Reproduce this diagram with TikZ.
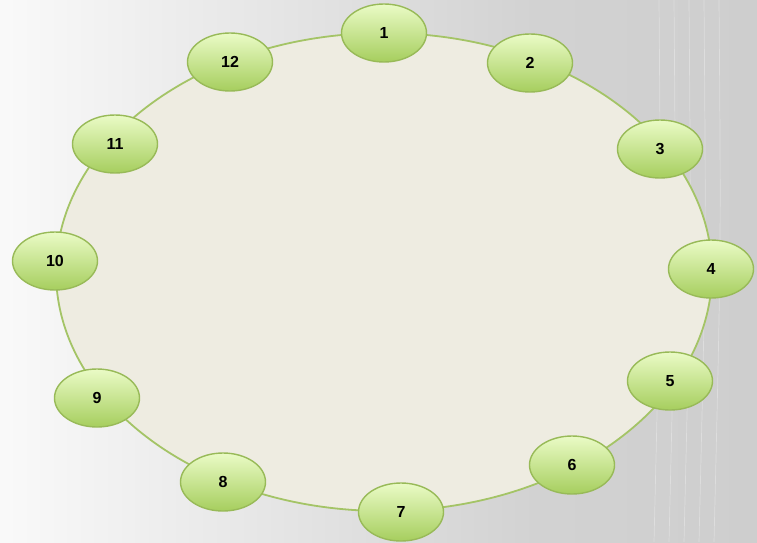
\documentclass[tikz,border=0pt]{standalone}
\usepackage{fontspec}
\setmainfont{Liberation Sans}
\usetikzlibrary{shapes.geometric}
\definecolor{bgR}{HTML}{CBCBCB}
\definecolor{ringfill}{HTML}{EEECE1}
\definecolor{ringline}{HTML}{A4C466}
\definecolor{nodetop}{HTML}{EAFBC6}
\definecolor{nodebot}{HTML}{A6CE5E}
\definecolor{nodeline}{HTML}{98BA58}
\pgfdeclarehorizontalshading{bgshade}{100bp}{color(0bp)=(white); color(20bp)=(white); color(60bp)=(gray!35!white); color(85bp)=(bgR); color(100bp)=(bgR)}
\tikzset{
  num/.style={ellipse, draw=nodeline, line width=1.4pt, minimum width=85pt, minimum height=58pt,
    inner sep=0pt, top color=nodetop, bottom color=nodebot, font=\fontsize{16}{16}\selectfont\bfseries},
  ring/.style={draw=ringline, line width=1.8pt, fill=ringfill},
  bgline/.style={white, opacity=0.3, line width=0.7pt}
}
\begin{document}
\begin{tikzpicture}[x=1pt,y=1pt]
\useasboundingbox (0,0) rectangle (757,-542);
\shade[shading=bgshade] (0,0) rectangle (757,-542);
\foreach \xx in {659,674,689,704,719}{
  \draw[bgline] (\xx,0) .. controls (\xx+2,-250) .. (\xx-5,-542);
}
\node[ring, ellipse, minimum width=656pt, minimum height=478pt, inner sep=0pt] (ring) at (384,-272) {};
\node[num] (n1) at (384,-33) {1};
\node[num] (n2) at (530,-63) {2};
\node[num] (n3) at (660,-149) {3};
\node[num] (n4) at (711,-269) {4};
\node[num] (n5) at (670,-381) {5};
\node[num] (n6) at (572,-465) {6};
\node[num] (n7) at (401,-512) {7};
\node[num] (n8) at (223,-482) {8};
\node[num] (n9) at (97,-398) {9};
\node[num] (n10) at (55,-261) {10};
\node[num] (n11) at (115,-144) {11};
\node[num] (n12) at (230,-62) {12};
\end{tikzpicture}
\end{document}
